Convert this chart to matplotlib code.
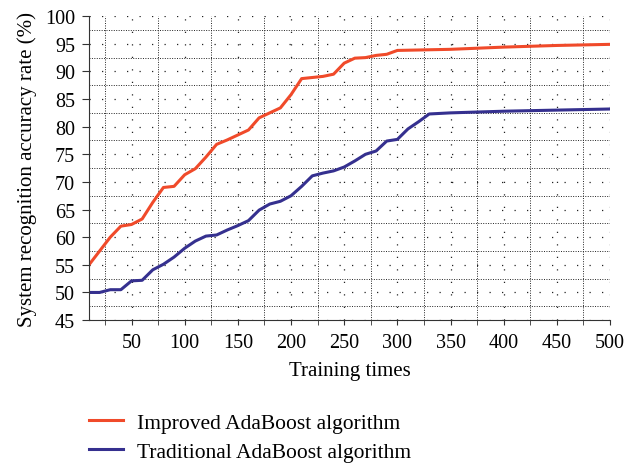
import numpy as np
import matplotlib.pyplot as plt
from matplotlib.ticker import MultipleLocator

plt.rcParams.update({"font.family": "Liberation Serif", "font.size": 15})

# Improved AdaBoost
x_imp = [10, 20, 30, 40, 50, 60, 70, 80, 90, 100, 110, 120, 130, 140, 150, 160, 170, 180,
         190, 200, 210, 220, 230, 240, 250, 260, 270, 280, 290, 300, 350, 400, 450, 500]
y_imp = [55.0, 57.5, 60.0, 62.0, 62.3, 63.3, 66.3, 69.0, 69.2, 71.3, 72.4, 74.5, 76.8, 77.6,
         78.5, 79.4, 81.6, 82.5, 83.4, 85.8, 88.7, 88.9, 89.1, 89.5, 91.5, 92.4, 92.5, 92.9,
         93.1, 93.8, 94.0, 94.4, 94.7, 94.9]

# Traditional AdaBoost
x_trad = [10, 20, 30, 40, 50, 60, 70, 80, 90, 100, 110, 120, 130, 140, 150, 160, 170, 180,
          190, 200, 210, 220, 230, 240, 250, 260, 270, 280, 290, 300, 310, 320, 330, 350,
          400, 450, 500]
y_trad = [50.0, 50.0, 50.5, 50.5, 52.1, 52.2, 54.1, 55.1, 56.4, 58.0, 59.3, 60.2, 60.4, 61.3,
          62.1, 63.0, 64.9, 66.0, 66.5, 67.5, 69.2, 71.1, 71.6, 72.0, 72.7, 73.8, 75.0, 75.6,
          77.4, 77.7, 79.6, 80.9, 82.3, 82.5, 82.8, 83.0, 83.2]

fig = plt.figure(figsize=(6.24, 4.64), dpi=100)
ax = fig.add_axes([0.1426, 0.308, 0.835, 0.655])

ax.plot(x_imp, y_imp, color="#f04a2a", lw=2.2, label="Improved AdaBoost algorithm")
ax.plot(x_trad, y_trad, color="#35308f", lw=2.2, label="Traditional AdaBoost algorithm")

ax.set_xlim(10, 500)
ax.set_ylim(45, 100)
ax.xaxis.set_major_locator(MultipleLocator(50))
ax.xaxis.set_minor_locator(MultipleLocator(25))
ax.yaxis.set_major_locator(MultipleLocator(5))
ax.yaxis.set_minor_locator(MultipleLocator(2.5))
ax.tick_params(axis="x", which="both", direction="out", length=3.5, pad=6,
               color="#333333", labelsize=14.5)
ax.tick_params(axis="y", which="major", direction="out", length=5, pad=5,
               color="#333333", labelsize=14.5)
ax.tick_params(axis="y", which="minor", length=0)

# dense dotted lines on the in-between positions, sparse dots on the labelled ones
ax.grid(which="minor", color="#222222", linestyle=(0, (1, 1.5)), lw=0.7)
ax.grid(which="major", color="#222222", linestyle=(0, (1, 9)), lw=0.9)
ax.set_axisbelow(True)

for s in ["top", "right"]:
    ax.spines[s].set_visible(False)
ax.spines["left"].set_color("#333333")
ax.spines["bottom"].set_color("#333333")

ax.set_xlabel("Training times", labelpad=6)
ax.set_ylabel("System recognition accuracy rate (%)", labelpad=6)

fig.legend(loc="upper left", bbox_to_anchor=(0.1426, 0.108), frameon=False,
           fontsize=15.5, handlelength=1.6, handletextpad=0.65, labelspacing=0.4,
           borderpad=0, borderaxespad=0)

fig.savefig("out.png", dpi=100)
